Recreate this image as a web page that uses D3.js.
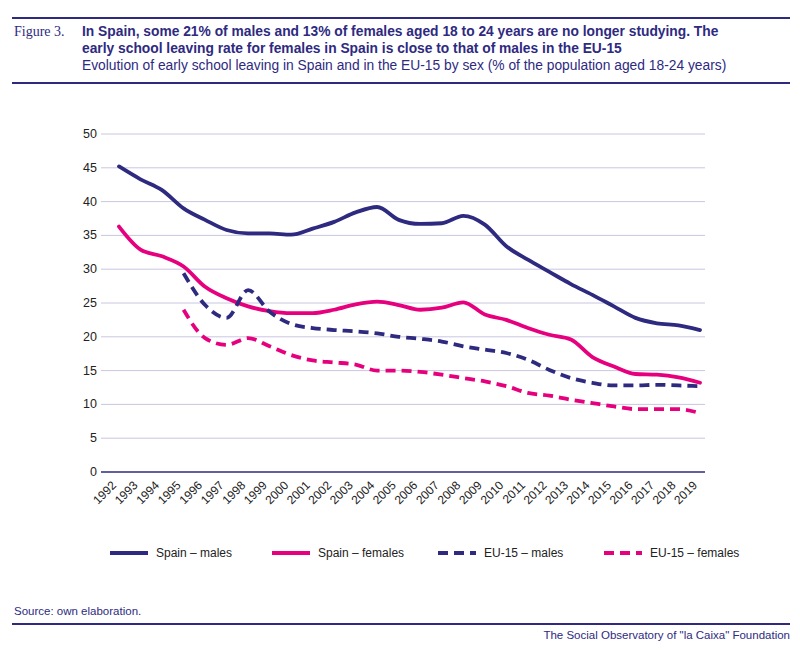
<!DOCTYPE html>
<html><head><meta charset="utf-8">
<script src="https://cdn.jsdelivr.net/npm/d3@7"></script>
<style>body{margin:0;background:#fff;font-family:"Liberation Sans",Arial,sans-serif}</style>
</head><body><svg id="c" width="800" height="650"></svg>
<script>
const years = d3.range(1992, 2020);
const spainMales = [45.2,43.3,41.7,39,37.3,35.8,35.3,35.3,35.1,36,37,38.4,39.2,37.3,36.7,36.8,37.9,36.6,33.4,31.4,29.6,27.8,26.2,24.5,22.8,22,21.7,21.0];
const spainFemales = [36.3,32.9,31.9,30.4,27.4,25.7,24.5,23.8,23.5,23.5,24,24.8,25.2,24.7,24,24.3,25.1,23.3,22.5,21.3,20.3,19.6,17,15.6,14.5,14.4,14,13.2];
const euMales = [null,null,null,29.4,24.7,22.8,26.9,23.7,21.9,21.3,21,20.8,20.5,20,19.7,19.3,18.6,18.1,17.6,16.6,15.1,13.9,13.2,12.8,12.8,12.9,12.8,12.7];
const euFemales = [null,null,null,24,19.8,18.8,19.8,18.6,17.3,16.5,16.2,15.9,15,15,14.8,14.4,13.9,13.4,12.7,11.7,11.3,10.7,10.2,9.7,9.3,9.3,9.3,8.7];
const yTicks = [0,5,10,15,20,25,30,35,40,45,50];
const seriesNames = ["Spain – males","Spain – females","EU-15 – males","EU-15 – females"];
const BLUE="#2e2a7f", PINK="#e6007e";
const series=[
 {name:seriesNames[0],v:spainMales,c:BLUE,dash:null},
 {name:seriesNames[1],v:spainFemales,c:PINK,dash:null},
 {name:seriesNames[2],v:euMales,c:BLUE,dash:"10,6"},
 {name:seriesNames[3],v:euFemales,c:PINK,dash:"10,6"}];
const svg=d3.select("#c");
const x=d3.scalePoint().domain(years).range([119,700]);
const y=d3.scaleLinear().domain([0,50]).range([472,134]);
svg.append("line").attr("x1",12).attr("x2",790).attr("y1",18).attr("y2",18).attr("stroke",BLUE).attr("stroke-width",2);
svg.append("line").attr("x1",12).attr("x2",790).attr("y1",83).attr("y2",83).attr("stroke",BLUE).attr("stroke-width",2);
svg.append("text").attr("x",14).attr("y",36).attr("fill",BLUE).attr("font-family","Liberation Serif,serif").attr("font-size",14).text("Figure 3.");
const t=svg.append("text").attr("fill",BLUE).attr("font-size",13.8);
t.append("tspan").attr("x",82).attr("y",36).attr("font-weight","bold").text("In Spain, some 21% of males and 13% of females aged 18 to 24 years are no longer studying. The");
t.append("tspan").attr("x",82).attr("y",53).attr("font-weight","bold").text("early school leaving rate for females in Spain is close to that of males in the EU-15");
t.append("tspan").attr("x",82).attr("y",70).text("Evolution of early school leaving in Spain and in the EU-15 by sex (% of the population aged 18-24 years)");
svg.append("g").selectAll("line").data(yTicks.filter(d=>d>0)).join("line")
 .attr("x1",101).attr("x2",705).attr("y1",d=>y(d)).attr("y2",d=>y(d)).attr("stroke","#c9c6e0").attr("stroke-width",1);
svg.append("line").attr("x1",101).attr("x2",705).attr("y1",y(0)).attr("y2",y(0)).attr("stroke",BLUE).attr("stroke-width",1.5);
svg.append("g").selectAll("text").data(yTicks).join("text").attr("x",97).attr("y",d=>y(d)+4).attr("text-anchor","end").attr("font-size",12.5).attr("fill","#222").text(d=>d);
svg.append("g").selectAll("text").data(years).join("text")
 .attr("transform",d=>`translate(${x(d)-2},${y(0)+14}) rotate(-45)`).attr("text-anchor","end").attr("font-size",12).attr("fill","#222").text(d=>d);
const line=d3.line().defined(d=>d[1]!=null).x(d=>x(d[0])).y(d=>y(d[1])).curve(d3.curveMonotoneX);
series.forEach(s=>{
 svg.append("path").attr("d",line(years.map((yr,i)=>[yr,s.v[i]]))).attr("fill","none").attr("stroke",s.c).attr("stroke-width",3.8)
  .attr("stroke-dasharray",s.dash).attr("stroke-linecap",s.dash?"butt":"round");
});
const lx=[110,272,438,604];
series.forEach((s,i)=>{
 svg.append("line").attr("x1",lx[i]).attr("x2",lx[i]+38).attr("y1",553).attr("y2",553).attr("stroke",s.c).attr("stroke-width",3.8).attr("stroke-dasharray",s.dash);
 svg.append("text").attr("x",lx[i]+46).attr("y",557).attr("font-size",12).attr("fill","#222").text(s.name);
});
svg.append("text").attr("x",14).attr("y",615).attr("font-size",11.5).attr("fill",BLUE).text("Source: own elaboration.");
svg.append("line").attr("x1",12).attr("x2",790).attr("y1",624).attr("y2",624).attr("stroke",BLUE).attr("stroke-width",2);
svg.append("text").attr("x",790).attr("y",639).attr("text-anchor","end").attr("font-size",11.5).attr("fill",BLUE).text("The Social Observatory of \"la Caixa\" Foundation");
</script></body></html>
